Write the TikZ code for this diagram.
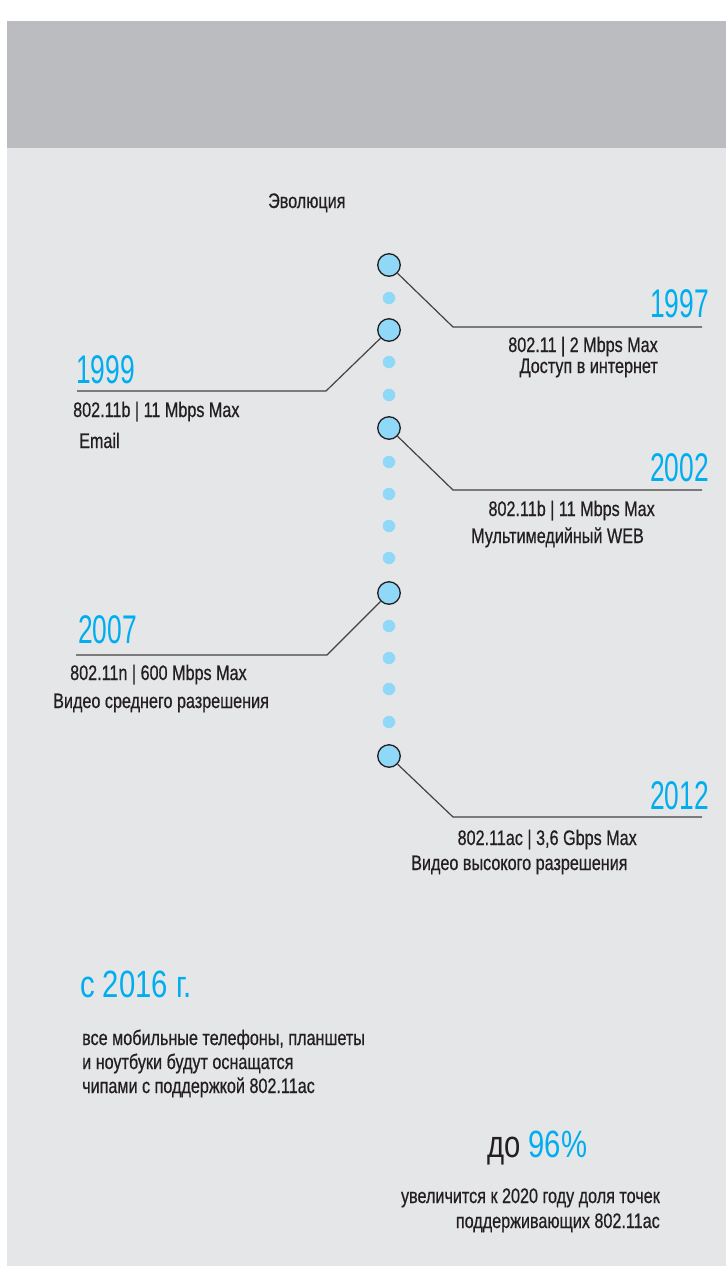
\documentclass[tikz,border=0pt]{standalone}
\usepackage{fontspec}
\setmainfont[FakeStretch=0.77,FakeBold=0.6]{Liberation Sans}
\newfontfamily\bigfont[FakeStretch=0.66]{Liberation Sans}
\newfontfamily\factfont[FakeStretch=0.77]{Liberation Sans}
\definecolor{hdr}{HTML}{BBBCC0}
\definecolor{bg}{HTML}{E5E6E8}
\definecolor{ink}{HTML}{231F20}
\definecolor{yr}{HTML}{00AEEF}
\definecolor{lb}{HTML}{8FD8F7}
\tikzset{
  bigdot/.style={circle, fill=lb, draw=ink, line width=1.3pt, minimum size=22.5pt, inner sep=0pt},
  smalldot/.style={circle, fill=lb, minimum size=12.5pt, inner sep=0pt},
  conn/.style={draw=ink!85, line width=1.2pt},
  body/.style={inner sep=0pt, text=ink, font=\fontsize{21}{24}\selectfont},
  year/.style={inner sep=0pt, text=yr, font=\bigfont\fontsize{40}{40}\selectfont},
  big/.style={inner sep=0pt, font=\factfont\fontsize{38}{38}\selectfont}
}
\begin{document}
\begin{tikzpicture}[x=1pt,y=-1pt]
\useasboundingbox (0,0) rectangle (726,1266);
\fill[white] (0,0) rectangle (726,1266);
\fill[bg] (7,148) rectangle (726,1266);
\fill[hdr] (7,21) rectangle (726,148);

\node[body, anchor=base west] (evo) at (268,208) {Эволюция};

% small dots
\foreach \yy [count=\i] in {298,362,395,462,494,526,558,626,658,689,722}
  \node[smalldot] (s\i) at (389,\yy) {};

% big circles
\node[bigdot] (c1) at (389,265) {};
\node[bigdot] (c2) at (389,330) {};
\node[bigdot] (c3) at (389,428) {};
\node[bigdot] (c4) at (389,593) {};
\node[bigdot] (c5) at (389,756) {};

% connector corners and ends
\coordinate (k1) at (453,327); \coordinate (e1) at (702,327);
\coordinate (k2) at (326,391); \coordinate (e2) at (77,391);
\coordinate (k3) at (453,490); \coordinate (e3) at (702,490);
\coordinate (k4) at (327,655); \coordinate (e4) at (76,655);
\coordinate (k5) at (453,817); \coordinate (e5) at (702,817);
\foreach \i in {1,...,5} \draw[conn] (c\i) -- (k\i) -- (e\i);

% 1997
\node[year, anchor=base east] (y1) at (709,317) {1997};
\node[body, anchor=base east] (a1) at (658,352) {802.11 | 2 Mbps Max};
\node[body, anchor=base east] (b1) at (658,373) {Доступ в интернет};
% 1999
\node[year, anchor=base west] (y2) at (76,383) {1999};
\node[body, anchor=base west] (a2) at (73,417) {802.11b | 11 Mbps Max};
\node[body, anchor=base west] (b2) at (79,448) {Email};
% 2002
\node[year, anchor=base east] (y3) at (709,481) {2002};
\node[body, anchor=base east] (a3) at (655,516) {802.11b | 11 Mbps Max};
\node[body, anchor=base east] (b3) at (644,543) {Мультимедийный WEB};
% 2007
\node[year, anchor=base west] (y4) at (78,643) {2007};
\node[body, anchor=base west] (a4) at (70,680) {802.11n | 600 Mbps Max};
\node[body, anchor=base west] (b4) at (53,708) {Видео среднего разрешения};
% 2012
\node[year, anchor=base east] (y5) at (709,809) {2012};
\node[body, anchor=base east] (a5) at (637,845) {802.11ac | 3,6 Gbps Max};
\node[body, anchor=base west] (b5) at (411,870) {Видео высокого разрешения};

% bottom facts
\node[big, text=yr, anchor=base west] (f1) at (80,997) {с 2016 г.};
\node[body, anchor=base west] (p1) at (82,1045) {все мобильные телефоны, планшеты};
\node[body, anchor=base west] (p2) at (82,1069) {и ноутбуки будут оснащатся};
\node[body, anchor=base west] (p3) at (82,1093) {чипами с поддержкой 802.11ac};

\node[big, text=ink, anchor=base west] (f2) at (487,1157) {до \textcolor{yr}{96\%}};
\node[body, anchor=base east] (q1) at (660,1203) {увеличится к 2020 году доля точек};
\node[body, anchor=base east] (q2) at (660,1228) {поддерживающих 802.11ac};
\end{tikzpicture}
\end{document}
